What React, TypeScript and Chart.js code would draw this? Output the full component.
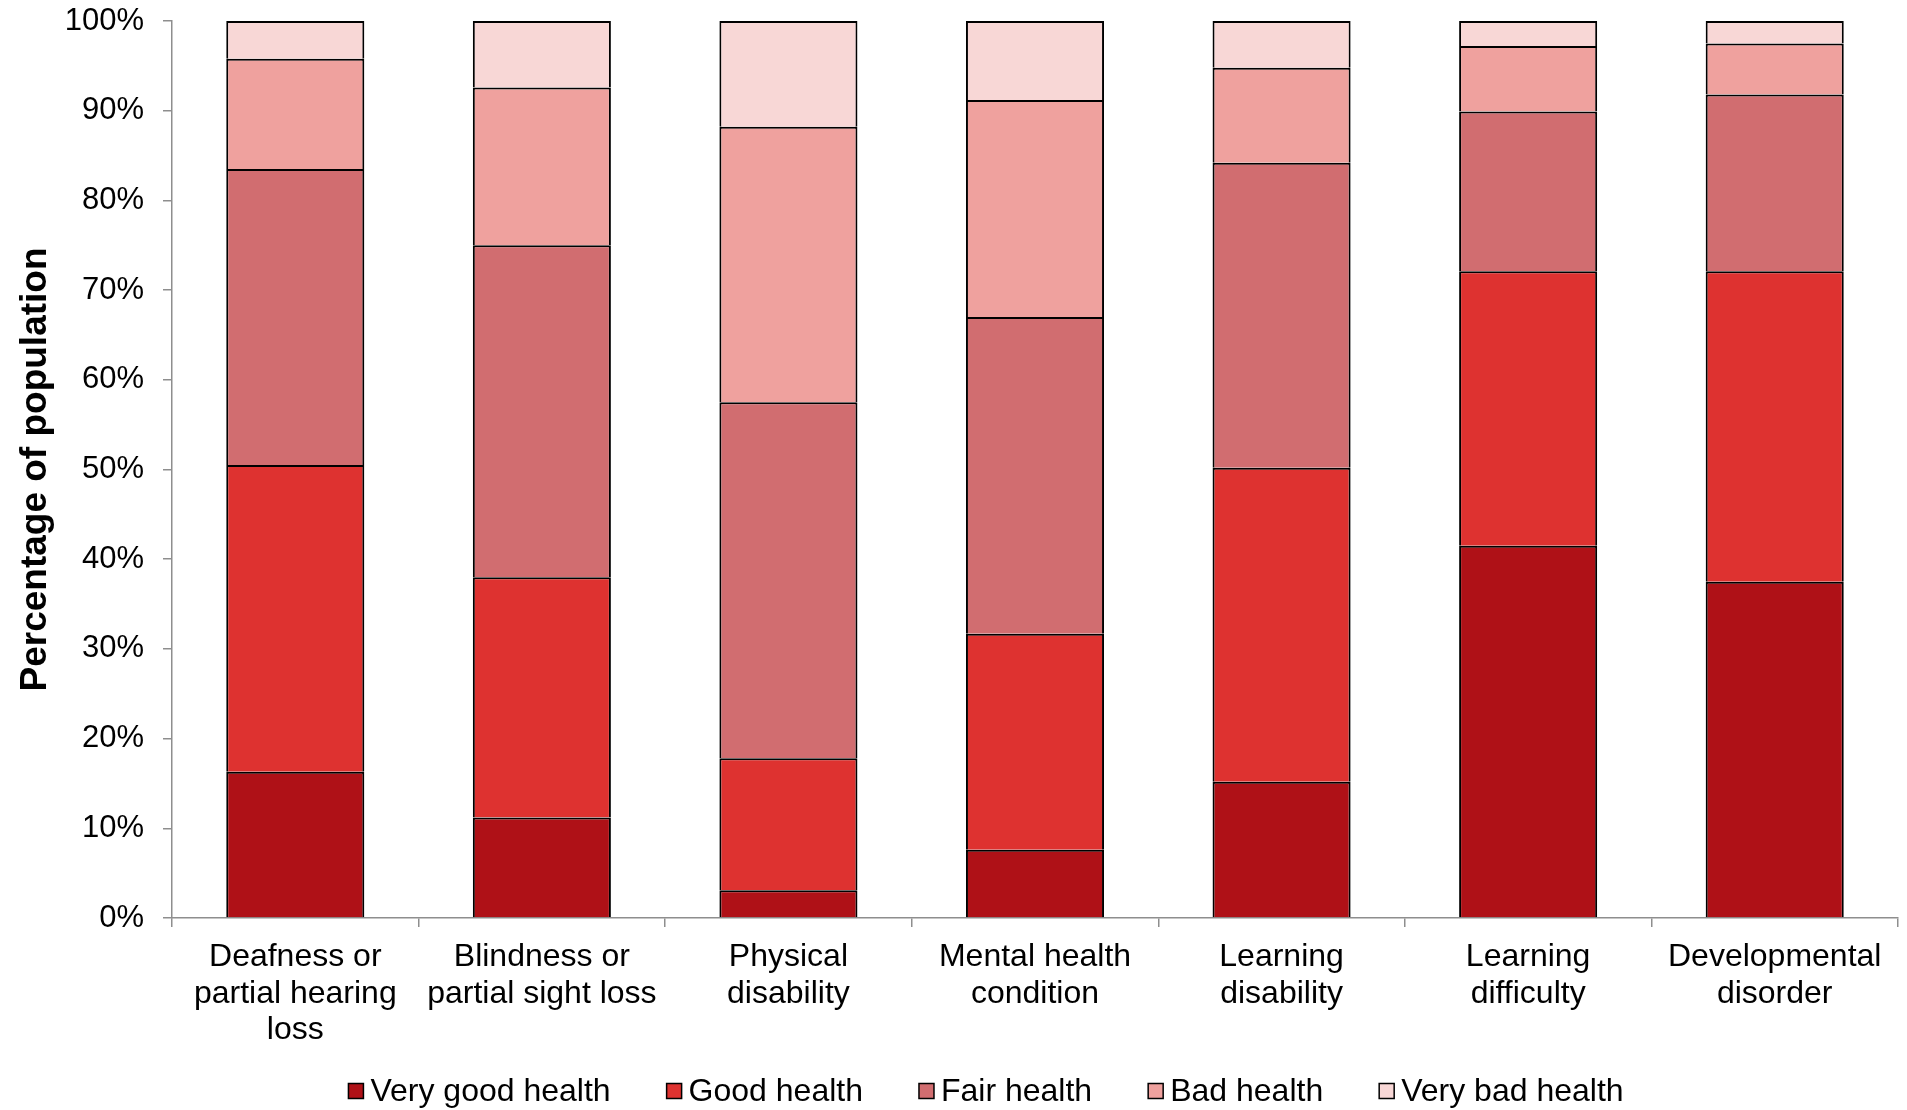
import { useEffect, useRef } from "react";
import { Chart, registerables } from "chart.js";

Chart.register(...registerables);

const FONT = "'Liberation Sans', Arial, Helvetica, sans-serif";

const categories: string[][] = [
  ["Deafness or", "partial hearing", "loss"],
  ["Blindness or", "partial sight loss"],
  ["Physical", "disability"],
  ["Mental health", "condition"],
  ["Learning", "disability"],
  ["Learning", "difficulty"],
  ["Developmental", "disorder"],
];

const seriesNames = [
  "Very good health",
  "Good health",
  "Fair health",
  "Bad health",
  "Very bad health",
];

const veryGoodHealth = [16.3, 11.2, 3.1, 7.6, 15.2, 41.5, 37.5];
const goodHealth = [34.2, 26.8, 14.7, 24.1, 35.0, 30.6, 34.6];
const fairHealth = [33.0, 37.0, 39.7, 35.3, 34.0, 17.8, 19.7];
const badHealth = [12.3, 17.6, 30.7, 24.2, 10.6, 7.3, 5.7];
const veryBadHealth = [4.2, 7.4, 11.8, 8.8, 5.2, 2.8, 2.5];

const seriesColors = ["#AF1117", "#DE3230", "#D16D70", "#EFA19E", "#F8D7D6"];

const yMin = 0;
const yMax = 100;
const yStep = 10;

const legendPlugin = {
  id: "customLegend",
  afterDraw(chart: any, _args: any, opts: any) {
    const ctx = chart.ctx as CanvasRenderingContext2D;
    ctx.save();
    ctx.font = `${opts.fontSize}px ${FONT}`;
    const items = chart.data.datasets.map((ds: any) => ({
      text: ds.label as string,
      color: ds.backgroundColor as string,
      w: ctx.measureText(ds.label).width,
    }));
    const total =
      items.reduce((s: number, it: any) => s + opts.box + opts.gap + it.w, 0) +
      opts.spacing * (items.length - 1);
    let x = opts.centerX - total / 2;
    const y = opts.centerY;
    ctx.textBaseline = "middle";
    ctx.textAlign = "left";
    for (const it of items) {
      ctx.fillStyle = it.color;
      ctx.fillRect(x, y - opts.box / 2, opts.box, opts.box);
      ctx.strokeStyle = "#000";
      ctx.lineWidth = 1.5;
      ctx.strokeRect(x, y - opts.box / 2, opts.box, opts.box);
      ctx.fillStyle = "#000";
      ctx.fillText(it.text, x + opts.box + opts.gap, y + 1);
      x += opts.box + opts.gap + it.w + opts.spacing;
    }
    ctx.restore();
  },
};

export default function App() {
  const canvasRef = useRef<HTMLCanvasElement | null>(null);

  useEffect(() => {
    document.body.style.margin = "0";
    const canvas = canvasRef.current;
    if (!canvas) return;
    const values = [veryGoodHealth, goodHealth, fairHealth, badHealth, veryBadHealth];
    const chart = new Chart(canvas, {
      type: "bar",
      data: {
        labels: categories,
        datasets: seriesNames.map((name, i) => ({
          label: name,
          data: values[i],
          backgroundColor: seriesColors[i],
          borderColor: "#000000",
          borderWidth: 2,
          categoryPercentage: 1,
          barPercentage: 0.56,
        })),
      },
      options: {
        responsive: false,
        animation: false,
        maintainAspectRatio: false,
        layout: { padding: { top: 21, right: 9, left: 0, bottom: 0 } },
        plugins: {
          legend: { display: false },
          tooltip: { enabled: false },
          customLegend: {
            fontSize: 32,
            box: 15,
            gap: 7,
            spacing: 56,
            centerX: 986,
            centerY: 1091,
          },
        } as any,
        scales: {
          x: {
            stacked: true,
            grid: {
              display: true,
              drawOnChartArea: false,
              drawTicks: true,
              tickLength: 9,
              color: "#8E8E8E",
              lineWidth: 1.5,
              offset: true,
            },
            border: { display: true, color: "#8E8E8E", width: 1.5 },
            ticks: {
              color: "#000",
              font: { family: FONT, size: 32, lineHeight: 1.14 },
              padding: 12,
              maxRotation: 0,
              minRotation: 0,
              autoSkip: false,
            },
            afterFit: (scale: any) => {
              scale.height = 192;
            },
          },
          y: {
            stacked: true,
            min: yMin,
            max: yMax,
            grid: {
              display: true,
              drawOnChartArea: false,
              drawTicks: true,
              tickLength: 9,
              color: "#8E8E8E",
              lineWidth: 1.5,
            },
            border: { display: true, color: "#8E8E8E", width: 1.5 },
            ticks: {
              stepSize: yStep,
              color: "#000",
              font: { family: FONT, size: 31 },
              padding: 19,
              callback: (v: any) => `${v}%`,
            },
            title: {
              display: true,
              text: "Percentage of population",
              color: "#000",
              font: { family: FONT, size: 37, weight: "bold", lineHeight: 1.2 },
              padding: { top: 14, bottom: 0 },
            },
            afterFit: (scale: any) => {
              scale.width = 172;
              scale.paddingTop = 0;
              scale.paddingBottom = 0;
            },
          },
        },
      },
      plugins: [legendPlugin],
    });
    return () => chart.destroy();
  }, []);

  return (
    <canvas
      ref={canvasRef}
      width={1907}
      height={1110}
      style={{ display: "block", width: "1907px", height: "1110px" }}
    />
  );
}
